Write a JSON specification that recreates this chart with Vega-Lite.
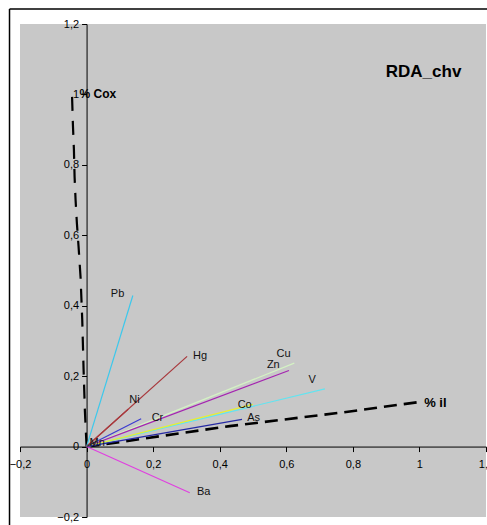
{
  "$schema": "https://vega.github.io/schema/vega-lite/v6.json",
  "width": 466,
  "height": 493,
  "autosize": {"type": "none"},
  "padding": {"left": 20, "top": 24, "right": 1, "bottom": 8},
  "background": "white",
  "config": {
    "view": {"fill": "#c8c8c8", "stroke": null},
    "font": "Liberation Sans, Arial, sans-serif"
  },
  "datasets": {
    "vectors": [
      {"el": "Pb", "x": 0.139, "y": 0.429, "lx": 0.093, "ly": 0.434},
      {"el": "Hg", "x": 0.302, "y": 0.256, "lx": 0.341, "ly": 0.258},
      {"el": "Ni", "x": 0.125, "y": 0.106, "lx": 0.144, "ly": 0.132},
      {"el": "Cr", "x": 0.164, "y": 0.079, "lx": 0.213, "ly": 0.082},
      {"el": "Cu", "x": 0.624, "y": 0.237, "lx": 0.592, "ly": 0.264},
      {"el": "Zn", "x": 0.608, "y": 0.216, "lx": 0.561, "ly": 0.233},
      {"el": "V", "x": 0.716, "y": 0.164, "lx": 0.678, "ly": 0.189},
      {"el": "Co", "x": 0.5, "y": 0.12, "lx": 0.475, "ly": 0.118},
      {"el": "As", "x": 0.467, "y": 0.077, "lx": 0.502, "ly": 0.082},
      {"el": "Ba", "x": 0.31, "y": -0.131, "lx": 0.352, "ly": -0.129},
      {"el": "Mn", "x": 0.03, "y": 0.015, "lx": 0.032, "ly": 0.01}
    ],
    "dashed": [
      {"v": "Cox", "i": 0, "x": 0, "y": 0},
      {"v": "Cox", "i": 1, "x": -0.005, "y": 0.1},
      {"v": "Cox", "i": 2, "x": -0.009, "y": 0.22},
      {"v": "Cox", "i": 3, "x": -0.013, "y": 0.36},
      {"v": "Cox", "i": 4, "x": -0.018, "y": 0.48},
      {"v": "Cox", "i": 5, "x": -0.024, "y": 0.567},
      {"v": "Cox", "i": 6, "x": -0.029, "y": 0.633},
      {"v": "Cox", "i": 7, "x": -0.033, "y": 0.7},
      {"v": "Cox", "i": 8, "x": -0.036, "y": 0.766},
      {"v": "Cox", "i": 9, "x": -0.038, "y": 0.843},
      {"v": "Cox", "i": 10, "x": -0.041, "y": 0.913},
      {"v": "Cox", "i": 11, "x": -0.044, "y": 1.007},
      {"v": "il", "i": 0, "x": 0, "y": 0},
      {"v": "il", "i": 1, "x": 0.049, "y": 0.006},
      {"v": "il", "i": 2, "x": 0.43, "y": 0.058},
      {"v": "il", "i": 3, "x": 0.761, "y": 0.096},
      {"v": "il", "i": 4, "x": 0.996, "y": 0.126}
    ],
    "dlabels": [
      {"t": "% Cox", "x": 0.034, "y": 1.001, "s": 12},
      {"t": "% il", "x": 1.048, "y": 0.123, "s": 13},
      {"t": "RDA_chv", "x": 1.0125, "y": 1.065, "s": 17}
    ]
  },
  "layer": [
    {
      "data": {"values": [{}]},
      "mark": {"type": "rule", "color": "black", "strokeWidth": 1.5},
      "encoding": {
        "x": {"datum": -0.2315, "type": "quantitative", "scale": {"domain": [-0.2, 1.2], "nice": false, "zero": false}},
        "y": {"datum": -0.3, "type": "quantitative", "scale": {"domain": [-0.2, 1.2], "nice": false, "zero": false}},
        "y2": {"datum": 1.2426}
      }
    },
    {
      "data": {"values": [{}]},
      "mark": {"type": "rule", "color": "black", "strokeWidth": 1.5},
      "encoding": {
        "y": {"datum": 1.2426, "type": "quantitative"},
        "x": {"datum": -0.2315, "type": "quantitative"},
        "x2": {"datum": 1.3}
      }
    },
    {
      "data": {"name": "dashed"},
      "transform": [{"filter": "datum.v == 'il'"}],
      "mark": {"type": "line", "color": "black", "strokeWidth": 2.6, "strokeDash": [13, 7]},
      "encoding": {
        "x": {"field": "x", "type": "quantitative"},
        "y": {"field": "y", "type": "quantitative"},
        "order": {"field": "i"}
      }
    },
    {
      "data": {"name": "dashed"},
      "transform": [{"filter": "datum.v == 'Cox'"}],
      "mark": {"type": "line", "color": "black", "strokeWidth": 2.2, "strokeDash": [14, 10]},
      "encoding": {
        "x": {"field": "x", "type": "quantitative"},
        "y": {"field": "y", "type": "quantitative"},
        "order": {"field": "i"}
      }
    },
    {
      "data": {"name": "vectors"},
      "mark": {"type": "rule", "strokeWidth": 1.2},
      "encoding": {
        "x": {
          "field": "x", "type": "quantitative",
          "scale": {"domain": [-0.2, 1.2], "nice": false, "zero": false},
          "axis": {
            "values": [-0.2, 0, 0.2, 0.4, 0.6, 0.8, 1, 1.2],
            "labelExpr": "replace(format(datum.value, '~g'), '.', ',')",
            "title": null, "grid": false, "offset": -70.43,
            "labelFlush": false, "labelOverlap": false, "labelBound": false,
            "domainColor": "black", "tickColor": "black", "tickSize": 5,
            "labelColor": "black", "labelFontSize": 11, "labelPadding": 7
          }
        },
        "y": {
          "field": "y", "type": "quantitative",
          "scale": {"domain": [-0.2, 1.2], "nice": false, "zero": false},
          "axis": {
            "values": [-0.2, 0, 0.2, 0.4, 0.6, 0.8, 1, 1.2],
            "labelExpr": "replace(format(datum.value, '~g'), '.', ',')",
            "title": null, "grid": false, "offset": -66.57,
            "labelFlush": false, "labelOverlap": false, "labelBound": false,
            "domainColor": "black", "tickColor": "black", "tickSize": 5,
            "labelColor": "black", "labelFontSize": 11, "labelPadding": 3
          }
        },
        "x2": {"datum": 0},
        "y2": {"datum": 0},
        "color": {
          "field": "el", "type": "nominal", "legend": null,
          "scale": {
            "domain": ["Pb", "Hg", "Ni", "Cr", "Cu", "Zn", "V", "Co", "As", "Ba", "Mn"],
            "range": ["#3cc8ec", "#a8383c", "#a8383c", "#3a3ad0", "#d4f2c4", "#a424b0", "#62e4f0", "#e6ee34", "#262aa4", "#e040e0", "#303030"]
          }
        }
      }
    },
    {
      "data": {"name": "vectors"},
      "mark": {"type": "text", "fontSize": 11, "color": "#111111", "align": "center", "baseline": "middle"},
      "encoding": {
        "x": {"field": "lx", "type": "quantitative"},
        "y": {"field": "ly", "type": "quantitative"},
        "text": {"field": "el"}
      }
    },
    {
      "data": {"name": "dlabels"},
      "mark": {"type": "text", "fontWeight": "bold", "color": "black", "align": "center", "baseline": "middle"},
      "encoding": {
        "x": {"field": "x", "type": "quantitative"},
        "y": {"field": "y", "type": "quantitative"},
        "text": {"field": "t"},
        "size": {"field": "s", "type": "quantitative", "scale": null}
      }
    }
  ]
}
